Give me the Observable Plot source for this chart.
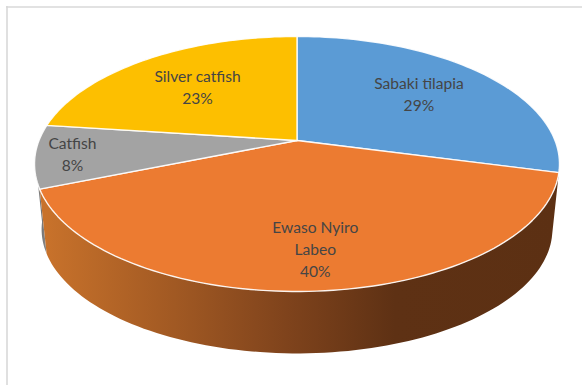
<!DOCTYPE html>
<html>
<head>
<meta charset="utf-8">
<script src="https://cdn.jsdelivr.net/npm/d3@7"></script>
<script src="https://cdn.jsdelivr.net/npm/@observablehq/plot@0.6"></script>
<style>
  html, body { margin: 0; padding: 0; background: #fff; }
  svg { display: block; background: #fff; }
</style>
</head>
<body>
<div id="chart"></div>
<script>
// Fish species share of the catch, clockwise from twelve o'clock.
const species = ["Sabaki tilapia", "Ewaso Nyiro\nLabeo", "Catfish", "Silver catfish"];
const shares = [29, 40, 8, 23];
const sliceColors = ["#5B9BD5", "#EC7B31", "#A3A3A3", "#FDBF00"];

// How far along its radius each label sits, and a small nudge in x and y.
const labelRadius = [0.63, 0.76, 0.86, 0.62];
const labelNudge = [[2, -3], [4, -1.5], [0, -1], [-2, -2]];

// Perspective of the tilted disc.
const width = 582, height = 385;
const center = [296.5, 140];
const radiusX = 258, radiusY = 123.2, tilt = -0.184;
const rimScale = 0.973, depth = 66;

function project(turn, r = 1) {
  const a = turn * 2 * Math.PI;
  const u = r * Math.sin(a), v = -r * Math.cos(a);
  const w = 1 + tilt * v;
  return [center[0] + radiusX * u / w, center[1] + radiusY * v / w];
}
function lower([x, y]) {
  return [center[0] + (x - center[0]) * rimScale, center[1] + (y - center[1]) * rimScale + depth];
}
function arc(t0, t1) {
  const n = Math.max(2, Math.ceil((t1 - t0) * 240));
  return d3.range(n + 1).map(i => project(t0 + (t1 - t0) * i / n));
}

let cum = 0;
const slices = species.map((name, i) => {
  const t0 = cum / 100;
  cum += shares[i];
  return {name, share: shares[i], t0, t1: cum / 100};
});

const topRows = slices.flatMap(s => {
  const ring = [center, ...arc(s.t0, s.t1), center];
  return ring.map(([x, y]) => ({x, y, name: s.name}));
});

function wallRows(s, t1 = s.t1) {
  const rim = arc(s.t0, t1);
  return [...rim, ...rim.slice().reverse().map(lower), rim[0]].map(([x, y]) => ({x, y}));
}

const labels = slices.map((s, i) => {
  const [x, y] = project((s.t0 + s.t1) / 2, labelRadius[i]);
  return {x: x + labelNudge[i][0], y: y + labelNudge[i][1], text: `${s.name}\n${s.share}%`};
});

// Horizontal shading of the side walls.
function gradient(id, x1, x2, stops) {
  const g = d3.create("svg:linearGradient")
    .attr("id", id).attr("gradientUnits", "userSpaceOnUse")
    .attr("x1", x1).attr("x2", x2).attr("y1", 0).attr("y2", 0);
  for (const [o, c] of stops) g.append("stop").attr("offset", o).attr("stop-color", c);
  return g.node();
}
const defs = () => {
  const d = d3.create("svg:defs");
  d.node().append(
    gradient("wallOrange", 45, 559, [[0, "#C8722B"], [0.47, "#7F431C"], [0.68, "#5E3114"], [1, "#5C3013"]]),
    gradient("wallGray", 34, 50, [[0, "#B0B0B0"], [0.4, "#707070"], [1, "#A0A0A0"]])
  );
  return d.node();
};

const chart = Plot.plot({
  width, height,
  margin: 0,
  x: {domain: [0, width], range: [0, width], axis: null},
  y: {domain: [0, height], range: [0, height], axis: null},
  color: {type: "ordinal", domain: species, range: sliceColors},
  marks: [
    defs,
    Plot.ruleY([6.5], {x1: 6, x2: width, stroke: "#D9D9D9", strokeWidth: 1.6}),
    Plot.ruleX([6.5], {y1: 6, y2: height, stroke: "#D9D9D9", strokeWidth: 1.6}),
    Plot.line(wallRows(slices[2], slices[2].t0 + 0.04), {x: "x", y: "y", fill: "url(#wallGray)", stroke: "none"}),
    Plot.line(wallRows(slices[1]), {x: "x", y: "y", fill: "url(#wallOrange)", stroke: "none"}),
    Plot.line(topRows, {x: "x", y: "y", z: "name", fill: "name", stroke: "white", strokeWidth: 1.4, strokeOpacity: 0.9}),
    Plot.text(labels, {
      x: "x", y: "y", text: "text",
      fill: "#454545", fontFamily: "Lato", fontSize: 15.6, lineHeight: 1.41
    })
  ]
});
document.getElementById("chart").append(chart);
</script>
</body>
</html>
